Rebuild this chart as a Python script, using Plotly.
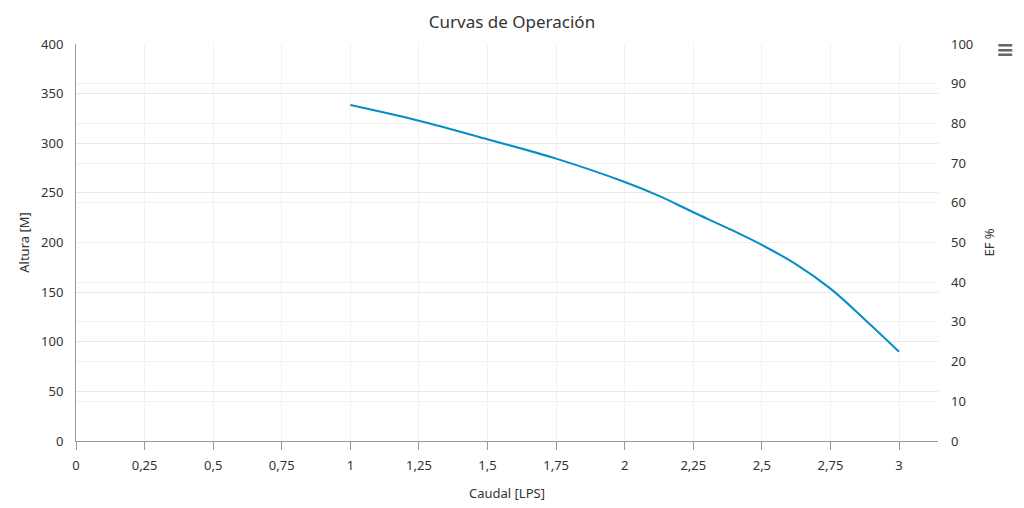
import plotly.graph_objects as go

caudal = [1.0, 1.25, 1.5, 1.75, 2.0, 2.125, 2.25, 2.375, 2.5, 2.625, 2.75, 2.875, 3.0]
altura = [338.5, 322.7, 304, 284.5, 261, 247, 230.5, 214.5, 197.5, 178, 153.5, 122.5, 90]
ef_x = []
ef_y = []

x_tickvals = [0, 0.25, 0.5, 0.75, 1, 1.25, 1.5, 1.75, 2, 2.25, 2.5, 2.75, 3]
x_ticktext = ["0", "0,25", "0,5", "0,75", "1", "1,25", "1,5", "1,75", "2", "2,25", "2,5", "2,75", "3"]
y_tickvals = [0, 50, 100, 150, 200, 250, 300, 350, 400]
y2_tickvals = [0, 10, 20, 30, 40, 50, 60, 70, 80, 90, 100]

FONT = "Noto Sans, Open Sans, sans-serif"

fig = go.Figure()
fig.add_trace(go.Scatter(x=caudal, y=altura, mode="lines",
                         line=dict(color="#058DC7", width=2, shape="spline", smoothing=1.0),
                         name="Altura", showlegend=False, hoverinfo="x+y"))
fig.add_trace(go.Scatter(x=ef_x, y=ef_y, mode="lines", yaxis="y2",
                         line=dict(color="#50B432", width=2), name="EF", showlegend=False))

fig.update_layout(
    width=1024, height=508,
    margin=dict(l=76, r=86, t=44, b=67),
    paper_bgcolor="white", plot_bgcolor="white",
    font=dict(family=FONT, size=13, color="#333333"),
    title=dict(text="Curvas de Operación", x=0.5, xanchor="center", y=0.957, yanchor="middle",
               font=dict(family=FONT, size=17, color="#333333")),
    xaxis=dict(range=[0, 3.142], tickvals=x_tickvals, ticktext=x_ticktext,
               showgrid=True, gridcolor="#f2f2f2", gridwidth=1,
               showline=True, linecolor="#999999", linewidth=1,
               ticks="outside", ticklen=8, tickcolor="#999999",
               zeroline=False, tickfont=dict(size=13, color="#333333"),
               ticklabelstandoff=4, automargin=False,
               title=dict(text="Caudal [LPS]", font=dict(size=13, color="#333333"), standoff=16)),
    yaxis=dict(range=[0, 400], tickvals=y_tickvals,
               showgrid=True, gridcolor="#e8e8e8", gridwidth=1,
               showline=True, linecolor="#999999", linewidth=1,
               zeroline=False, ticks="", tickfont=dict(size=13, color="#333333"),
               ticklabelstandoff=9, automargin=False,
               title=dict(text="Altura [M]", font=dict(size=13, color="#333333"), standoff=8)),
    yaxis2=dict(range=[0, 100], tickvals=y2_tickvals, overlaying="y", side="right",
                showgrid=True, gridcolor="#f0f0f0", gridwidth=1,
                showline=False, zeroline=False, ticks="",
                tickfont=dict(size=13, color="#333333"),
                ticklabelstandoff=12, automargin=False,
                title=dict(text="EF %", font=dict(size=13, color="#333333"), standoff=12)),
    annotations=[dict(text="<b>≡</b>", xref="paper", yref="paper", x=1.0777, y=0.985,
                      xanchor="center", yanchor="middle", showarrow=False,
                      font=dict(family="DejaVu Sans", size=22, color="#666666"))],
)

fig.write_html("out.html", config={"displayModeBar": False},
               post_script="document.body.style.margin='0';document.body.style.overflow='hidden';")
